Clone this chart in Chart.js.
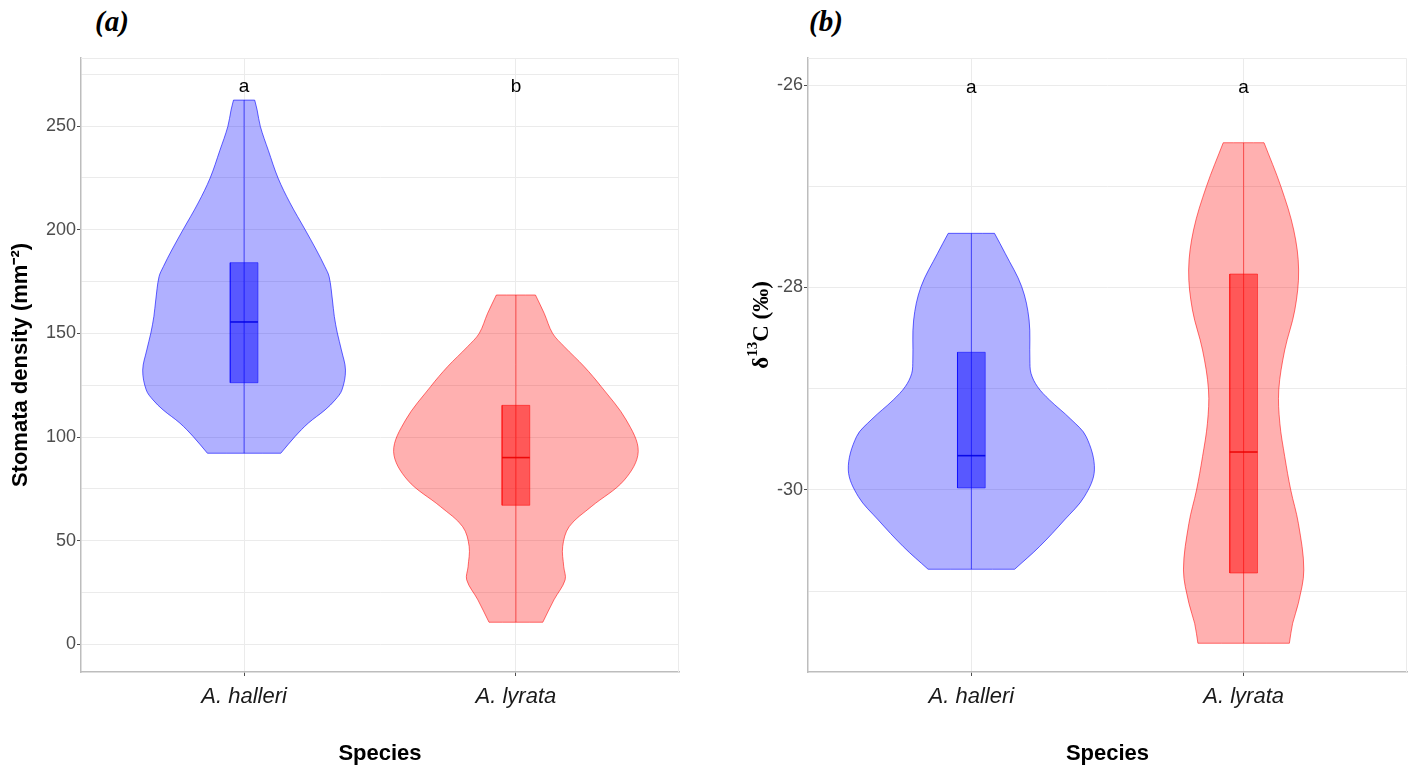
<!DOCTYPE html>
<html>
<head>
<meta charset="utf-8">
<script src="https://cdn.jsdelivr.net/npm/chart.js@4.4.1/dist/chart.umd.min.js"></script>
<style>
body{margin:0;background:#fff;width:1416px;height:771px;position:relative;overflow:hidden}
canvas{position:absolute;top:0}
.tag{position:absolute;top:5px;font:italic bold 29px 'Liberation Serif',serif;color:#000}
</style>
</head>
<body>
<div class="tag" style="left:95px">(a)</div>
<div class="tag" style="left:809px">(b)</div>
<canvas id="chartA" width="700" height="771" style="left:0"></canvas>
<canvas id="chartB" width="708" height="771" style="left:708px"></canvas>
<script>
// categorias
const especies = ['A. halleri', 'A. lyrata'];

// (a) densidad estomatica: perfil del violin (valor, semi-ancho)
const densHalleriY = [262.5, 257.7, 249.7, 238.3, 224.9, 212.9, 199.9, 190.2, 182.2, 177.3, 166.1, 158.1, 150.2, 142.0, 132.3, 122.7, 117.9, 113.1, 106.7, 100.2, 92.2];
const densHalleriW = [0.039, 0.048, 0.060, 0.089, 0.125, 0.169, 0.225, 0.266, 0.297, 0.313, 0.325, 0.332, 0.343, 0.358, 0.373, 0.360, 0.335, 0.298, 0.236, 0.187, 0.135];
const densLyrataY = [168.5, 159.7, 150.0, 143.6, 134.0, 124.3, 108.2, 93.0, 79.3, 66.4, 56.8, 47.2, 37.5, 31.1, 21.5, 10.7];
const densLyrataW = [0.072, 0.104, 0.135, 0.178, 0.251, 0.314, 0.406, 0.450, 0.399, 0.277, 0.196, 0.172, 0.176, 0.181, 0.140, 0.099];
const minA = [92.2, 10.7];
const q1A = [126.2, 67.1];
const medA = [155.5, 90.1];
const q3A = [184.1, 115.3];
const maxA = [262.5, 168.5];
const letrasA = ['a', 'b'];
const ticksA = [0, 25, 50, 75, 100, 125, 150, 175, 200, 225, 250, 275];

// (b) delta 13C
const d13HalleriY = [-27.465, -27.662, -27.992, -28.321, -28.716, -28.848, -28.98, -29.111, -29.30, -29.474, -29.802, -30.066, -30.296, -30.560, -30.783];
const d13HalleriW = [0.085, 0.124, 0.185, 0.212, 0.215, 0.219, 0.243, 0.287, 0.365, 0.422, 0.452, 0.415, 0.342, 0.250, 0.159];
const d13LyrataY = [-26.570, -27.004, -27.432, -27.827, -28.222, -28.617, -29.012, -29.341, -29.671, -30.000, -30.329, -30.790, -31.119, -31.317, -31.514];
const d13LyrataW = [0.075, 0.137, 0.184, 0.202, 0.188, 0.151, 0.129, 0.133, 0.151, 0.173, 0.201, 0.221, 0.201, 0.180, 0.168];
const minB = [-30.783, -31.514];
const q1B = [-29.98, -30.82];
const medB = [-29.661, -29.625];
const q3B = [-28.64, -27.867];
const maxB = [-27.465, -26.570];
const letrasB = ['a', 'a'];
const ticksB = [-31, -30, -29, -28, -27, -26];

const colores = [
  {fill: 'rgba(0,0,255,0.31)', line: 'rgba(0,0,255,0.6)', box: 'rgba(0,0,255,0.5)', med: 'rgba(0,0,230,0.9)'},
  {fill: 'rgba(255,0,0,0.31)', line: 'rgba(255,0,0,0.55)', box: 'rgba(255,0,0,0.5)', med: 'rgba(235,0,0,0.9)'}
];
const anchoCaja = 0.051;

// contorno cerrado; las esquinas se repiten para que la curva no se pase
function violin(c, ys, ws) {
  let der = ys.map((y, i) => ({x: c + ws[i], y: y}));
  let izq = ys.map((y, i) => ({x: c - ws[i], y: y})).reverse();
  return [der[0]].concat(der, [der[der.length - 1]], [izq[0]], izq, [izq[izq.length - 1]], [der[0]]);
}

function datasetsPanel(perfiles, mins, q1s, meds, q3s, maxs) {
  let ds = [];
  perfiles.forEach((p, i) => {
    let c = i + 1;
    let col = colores[i];
    ds.push({data: violin(c, p[0], p[1]), fill: 'shape', backgroundColor: col.fill, borderColor: col.line,
      borderWidth: 1, tension: 0.35, pointRadius: 0, order: 4});
    ds.push({data: [{x: c, y: mins[i]}, {x: c, y: maxs[i]}], fill: false, borderColor: col.line,
      borderWidth: 1, tension: 0, pointRadius: 0, order: 3});
    ds.push({data: [{x: c - anchoCaja, y: q1s[i]}, {x: c + anchoCaja, y: q1s[i]}, {x: c + anchoCaja, y: q3s[i]},
        {x: c - anchoCaja, y: q3s[i]}, {x: c - anchoCaja, y: q1s[i]}],
      fill: 'shape', backgroundColor: col.box, borderColor: col.box, borderWidth: 1, tension: 0, pointRadius: 0, order: 2});
    ds.push({data: [{x: c - anchoCaja, y: meds[i]}, {x: c + anchoCaja, y: meds[i]}], fill: false,
      borderColor: col.med, borderWidth: 1.6, tension: 0, pointRadius: 0, order: 1});
  });
  return ds;
}

function pluginPanel(opts) {
  return {
    id: 'extras',
    beforeDatasetsDraw(chart) {
      let a = chart.chartArea, ctx = chart.ctx;
      ctx.save();
      ctx.strokeStyle = '#EBEBEB';
      ctx.lineWidth = 1;
      ctx.beginPath();
      ctx.moveTo(a.left, a.top + 0.5);
      ctx.lineTo(a.right - 0.5, a.top + 0.5);
      ctx.lineTo(a.right - 0.5, a.bottom);
      ctx.stroke();
      ctx.restore();
    },
    afterDatasetsDraw(chart) {
      let ctx = chart.ctx;
      ctx.save();
      ctx.font = '19px "Liberation Sans", Arial, sans-serif';
      ctx.fillStyle = '#000';
      ctx.textAlign = 'center';
      ctx.textBaseline = 'middle';
      opts.letras.forEach((l, i) => {
        ctx.fillText(l, chart.scales.x.getPixelForValue(i + 1), chart.scales.y.getPixelForValue(opts.letraY));
      });
      ctx.restore();
    },
    afterDraw(chart) {
      if (!opts.delta) return;
      // titulo del eje y con superindice
      let ctx = chart.ctx;
      let grande = 'bold 23px "Liberation Serif", serif';
      let chico = 'bold 15px "Liberation Serif", serif';
      let partes = [['δ', grande, 0], ['13', chico, -9], ['C (‰)', grande, 0]];
      ctx.save();
      ctx.translate(opts.delta.x, opts.delta.y);
      ctx.rotate(-Math.PI / 2);
      ctx.fillStyle = '#000';
      ctx.textBaseline = 'middle';
      let total = 0;
      partes.forEach(p => { ctx.font = p[1]; total += ctx.measureText(p[0]).width; });
      let x = -total / 2;
      partes.forEach(p => {
        ctx.font = p[1];
        ctx.fillText(p[0], x, p[2]);
        x += ctx.measureText(p[0]).width;
      });
      ctx.restore();
    }
  };
}

function grafico(id, datasets, opts) {
  let ctx = document.getElementById(id).getContext('2d');
  return new Chart(ctx, {
    type: 'line',
    data: {datasets: datasets},
    plugins: [pluginPanel(opts)],
    options: {
      responsive: false,
      animation: false,
      devicePixelRatio: 1,
      layout: {padding: {left: 0, top: 58, right: opts.padRight, bottom: 0}},
      plugins: {legend: {display: false}, tooltip: {enabled: false}},
      scales: {
        x: {
          type: 'linear', min: 0.4, max: 2.6,
          afterBuildTicks: s => { s.ticks = [{value: 1}, {value: 2}]; },
          afterFit: s => { s.height = 99; },
          ticks: {callback: (v, i) => especies[i], autoSkip: false, maxRotation: 0, padding: 8, color: '#1A1A1A',
            font: {family: 'Liberation Sans', size: 22, style: 'italic'}},
          grid: {color: '#EBEBEB', tickLength: 4, tickColor: '#4D4D4D'},
          border: {color: '#BDBDBD', width: 1.5},
          title: {display: true, text: 'Species', color: '#000', padding: {top: 0, bottom: 4},
            font: {family: 'Liberation Sans', size: 22, weight: 'bold'}}
        },
        y: {
          type: 'linear', min: opts.yMin, max: opts.yMax,
          afterBuildTicks: s => { s.ticks = opts.ticks.map(v => ({value: v})); },
          afterFit: s => { s.width = opts.yWidth; },
          ticks: {callback: v => (v % opts.paso === 0 ? String(v) : ''), padding: 1, color: '#4D4D4D',
            font: {family: 'Liberation Sans', size: 18}},
          grid: {color: '#EBEBEB', tickLength: 4,
            tickColor: c => (c.tick && c.tick.value % opts.paso === 0 ? '#4D4D4D' : 'rgba(0,0,0,0)')},
          border: {color: '#BDBDBD', width: 1.5},
          title: {display: !opts.delta, text: opts.titulo, color: '#000', padding: {top: 8, bottom: 0},
            font: {family: 'Liberation Sans', size: 22, weight: 'bold'}}
        }
      }
    }
  });
}

grafico('chartA',
  datasetsPanel([[densHalleriY, densHalleriW], [densLyrataY, densLyrataW]], minA, q1A, medA, q3A, maxA),
  {letras: letrasA, letraY: 269, ticks: ticksA, paso: 50, yMin: -13.3, yMax: 282.8, yWidth: 81, padRight: 21,
    titulo: 'Stomata density (mm⁻²)'});

grafico('chartB',
  datasetsPanel([[d13HalleriY, d13HalleriW], [d13LyrataY, d13LyrataW]], minB, q1B, medB, q3B, maxB),
  {letras: letrasB, letraY: -26.03, ticks: ticksB, paso: 2, yMin: -31.798, yMax: -25.733, yWidth: 100, padRight: 9,
    titulo: 'δ13C (‰)', delta: {x: 54, y: 325}});
</script>
</body>
</html>
